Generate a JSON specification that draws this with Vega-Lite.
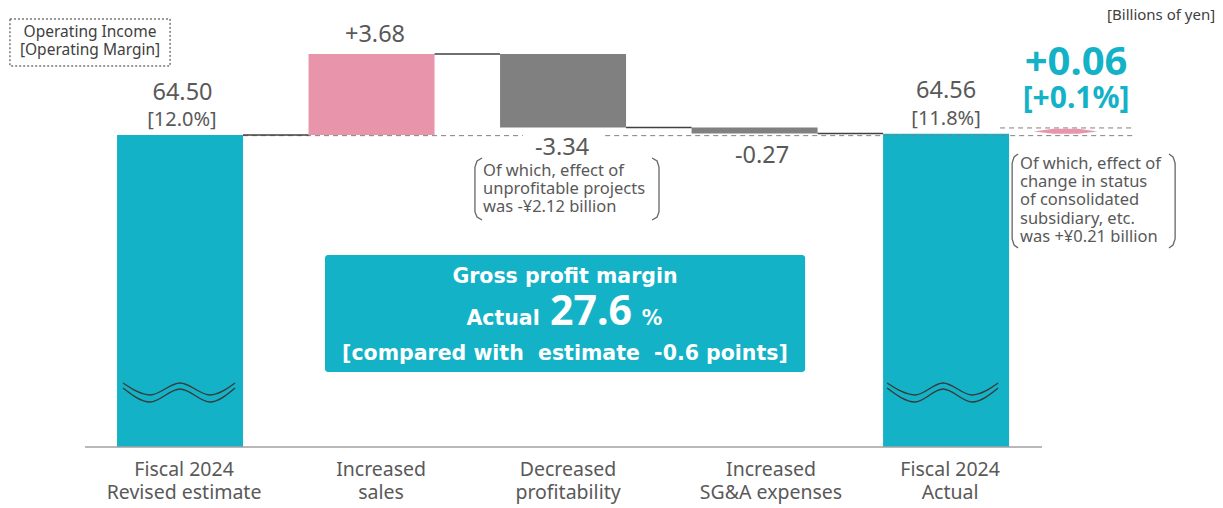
{
  "$schema": "https://vega.github.io/schema/vega-lite/v6.json",
  "width": 1223,
  "height": 508,
  "autosize": "none",
  "padding": 0,
  "background": "white",
  "config": {"view": {"stroke": null}, "font": "Noto Sans"},
  "datasets": {
    "bars": [
      {"name": "Fiscal 2024 Revised estimate", "x": 1, "y": 50.32, "y2": 64.50, "kind": "total"},
      {"name": "Increased sales", "x": 2, "y": 64.50, "y2": 68.18, "kind": "increase"},
      {"name": "Decreased profitability", "x": 3, "y": 68.18, "y2": 64.84, "kind": "decrease"},
      {"name": "Increased SG&A expenses", "x": 4, "y": 64.84, "y2": 64.57, "kind": "decrease"},
      {"name": "Fiscal 2024 Actual", "x": 5, "y": 50.32, "y2": 64.56, "kind": "total"}
    ],
    "conn": [
      {"x": 1.329, "x2": 1.671, "y": 64.50},
      {"x": 2.329, "x2": 2.671, "y": 68.18},
      {"x": 3.329, "x2": 3.671, "y": 64.84},
      {"x": 4.329, "x2": 4.671, "y": 64.57}
    ],
    "dash": [
      {"x": 1.329, "x2": 2.79, "y": 64.47},
      {"x": 3.22, "x2": 5.987, "y": 64.47},
      {"x": 5.282, "x2": 5.987, "y": 64.82}
    ],
    "lens": [
      {"x": 5.457, "y": 64.66, "y2": 64.66},
      {"x": 5.56, "y": 64.56, "y2": 64.78},
      {"x": 5.69, "y": 64.56, "y2": 64.78},
      {"x": 5.791, "y": 64.66, "y2": 64.66}
    ],
    "base": [{"x": 0.504, "x2": 5.501, "y": 50.32}],
    "waves": [
      {"g": "a1", "i": 1, "x": 0.7023, "y": 53.227},
      {"g": "a1", "i": 2, "x": 0.8433, "y": 52.682},
      {"g": "a1", "i": 3, "x": 1.0, "y": 53.227},
      {"g": "a1", "i": 4, "x": 1.1567, "y": 52.682},
      {"g": "a1", "i": 5, "x": 1.2872, "y": 53.227},
      {"g": "a2", "i": 1, "x": 0.7023, "y": 53.0},
      {"g": "a2", "i": 2, "x": 0.8433, "y": 52.364},
      {"g": "a2", "i": 3, "x": 1.0, "y": 52.955},
      {"g": "a2", "i": 4, "x": 1.1567, "y": 52.364},
      {"g": "a2", "i": 5, "x": 1.2872, "y": 53.0},
      {"g": "b1", "i": 1, "x": 4.692, "y": 53.227},
      {"g": "b1", "i": 2, "x": 4.838, "y": 52.682},
      {"g": "b1", "i": 3, "x": 4.984, "y": 53.227},
      {"g": "b1", "i": 4, "x": 5.136, "y": 52.682},
      {"g": "b1", "i": 5, "x": 5.272, "y": 53.227},
      {"g": "b2", "i": 1, "x": 4.692, "y": 53.0},
      {"g": "b2", "i": 2, "x": 4.838, "y": 52.364},
      {"g": "b2", "i": 3, "x": 4.984, "y": 52.955},
      {"g": "b2", "i": 4, "x": 5.136, "y": 52.364},
      {"g": "b2", "i": 5, "x": 5.272, "y": 53.0}
    ],
    "brackets": [
      {"g": "n1l", "i": 1, "x": 2.577, "y": 63.455},
      {"g": "n1l", "i": 2, "x": 2.551, "y": 63.318},
      {"g": "n1l", "i": 3, "x": 2.540, "y": 63.045},
      {"g": "n1l", "i": 4, "x": 2.540, "y": 61.0},
      {"g": "n1l", "i": 5, "x": 2.551, "y": 60.773},
      {"g": "n1l", "i": 6, "x": 2.577, "y": 60.636},
      {"g": "n1r", "i": 1, "x": 3.465, "y": 63.455},
      {"g": "n1r", "i": 2, "x": 3.491, "y": 63.318},
      {"g": "n1r", "i": 3, "x": 3.501, "y": 63.045},
      {"g": "n1r", "i": 4, "x": 3.501, "y": 61.0},
      {"g": "n1r", "i": 5, "x": 3.491, "y": 60.773},
      {"g": "n1r", "i": 6, "x": 3.465, "y": 60.636},
      {"g": "n2l", "i": 1, "x": 5.376, "y": 63.636},
      {"g": "n2l", "i": 2, "x": 5.355, "y": 63.5},
      {"g": "n2l", "i": 3, "x": 5.345, "y": 63.227},
      {"g": "n2l", "i": 4, "x": 5.345, "y": 59.773},
      {"g": "n2l", "i": 5, "x": 5.355, "y": 59.5},
      {"g": "n2l", "i": 6, "x": 5.376, "y": 59.364},
      {"g": "n2r", "i": 1, "x": 6.164, "y": 63.636},
      {"g": "n2r", "i": 2, "x": 6.185, "y": 63.5},
      {"g": "n2r", "i": 3, "x": 6.196, "y": 63.227},
      {"g": "n2r", "i": 4, "x": 6.196, "y": 59.773},
      {"g": "n2r", "i": 5, "x": 6.185, "y": 59.5},
      {"g": "n2r", "i": 6, "x": 6.164, "y": 59.364}
    ],
    "box": [{"x": 1.757, "x2": 4.264, "y": 59.045, "y2": 53.727}],
    "opbox": [{"x": 0.112, "x2": 0.948, "y": 69.773, "y2": 67.636}],
    "vals": [
      {"x": 1.013, "y": 66.091, "t": "64.50"},
      {"x": 2.018, "y": 68.727, "t": "+3.68"},
      {"x": 2.995, "y": 63.591, "t": "-3.34"},
      {"x": 4.039, "y": 63.227, "t": "-0.27"},
      {"x": 5.0, "y": 66.182, "t": "64.56"}
    ],
    "pcts": [
      {"x": 1.01, "y": 64.909, "t": "[12.0%]"},
      {"x": 5.0, "y": 64.955, "t": "[11.8%]"}
    ],
    "big1": [{"x": 5.679, "y": 67.227, "t": "+0.06"}],
    "big2": [{"x": 5.679, "y": 65.727, "t": "[+0.1%]"}],
    "cats": [
      {"x": 1.021, "y": 49.682, "t": "Fiscal 2024\nRevised estimate"},
      {"x": 2.05, "y": 49.682, "t": "Increased\nsales"},
      {"x": 3.026, "y": 49.682, "t": "Decreased\nprofitability"},
      {"x": 4.086, "y": 49.682, "t": "Increased\nSG&A expenses"},
      {"x": 5.021, "y": 49.682, "t": "Fiscal 2024\nActual"}
    ],
    "unit": [{"x": 6.405, "y": 69.727, "t": "[Billions of yen]"}],
    "optext": [{"x": 0.530, "y": 68.955, "t": "Operating Income\n[Operating Margin]"}],
    "notes": [
      {"x": 2.582, "y": 62.636, "t": "Of which, effect of\nunprofitable projects\nwas -¥2.12 billion"},
      {"x": 5.386, "y": 62.955, "t": "Of which, effect of\nchange in status\nof consolidated\nsubsidiary, etc.\nwas +¥0.21 billion"}
    ],
    "boxtext": [
      {"x": 3.010, "y": 57.773, "t": "Gross profit margin"},
      {"x": 2.687, "y": 55.864, "t": "Actual"},
      {"x": 3.465, "y": 55.864, "t": "%"},
      {"x": 3.010, "y": 54.273, "t": "[compared with\u00a0 estimate\u00a0 -0.6 points]"}
    ],
    "boxbig": [{"x": 3.146, "y": 55.864, "t": "27.6"}]
  },
  "encoding": {
    "x": {"field": "x", "type": "quantitative", "scale": {"domain": [0.06, 6.446], "nice": false, "zero": false, "padding": 0}, "axis": null},
    "y": {"field": "y", "type": "quantitative", "scale": {"domain": [47.545, 70.636], "nice": false, "zero": false, "padding": 0}, "axis": null}
  },
  "layer": [
    {
      "data": {"name": "bars"},
      "mark": {"type": "bar", "width": 126},
      "encoding": {
        "y2": {"field": "y2"},
        "color": {"field": "kind", "type": "nominal", "scale": {"domain": ["total", "increase", "decrease"], "range": ["#13B2C7", "#E895AB", "#808080"]}, "legend": null}
      }
    },
    {
      "data": {"name": "base"},
      "mark": {"type": "rule", "color": "#A0A0A0", "strokeWidth": 1.5},
      "encoding": {"x2": {"field": "x2"}}
    },
    {
      "data": {"name": "waves"},
      "mark": {"type": "line", "interpolate": "monotone", "color": "#3A3A3A", "strokeWidth": 1.4},
      "encoding": {"detail": {"field": "g"}, "order": {"field": "i"}}
    },
    {
      "data": {"name": "box"},
      "mark": {"type": "rect", "color": "#13B2C7", "cornerRadius": 3},
      "encoding": {"x2": {"field": "x2"}, "y2": {"field": "y2"}}
    },
    {
      "data": {"name": "dash"},
      "mark": {"type": "rule", "strokeDash": [5, 4], "color": "#808080", "strokeWidth": 1},
      "encoding": {"x2": {"field": "x2"}}
    },
    {
      "data": {"name": "conn"},
      "mark": {"type": "rule", "color": "#404040", "strokeWidth": 1.5},
      "encoding": {"x2": {"field": "x2"}}
    },
    {
      "data": {"name": "lens"},
      "mark": {"type": "area", "color": "#E895AB"},
      "encoding": {"y2": {"field": "y2"}}
    },
    {
      "data": {"name": "brackets"},
      "mark": {"type": "line", "color": "#666666", "strokeWidth": 1.3},
      "encoding": {"detail": {"field": "g"}, "order": {"field": "i"}}
    },
    {
      "data": {"name": "opbox"},
      "mark": {"type": "rect", "filled": false, "color": "#333333", "strokeDash": [2, 2], "strokeWidth": 1},
      "encoding": {"x2": {"field": "x2"}, "y2": {"field": "y2"}}
    },
    {
      "data": {"name": "vals"},
      "mark": {"type": "text", "fontSize": 23.5, "color": "#595959", "align": "center", "baseline": "alphabetic"},
      "encoding": {"text": {"field": "t"}}
    },
    {
      "data": {"name": "pcts"},
      "mark": {"type": "text", "fontSize": 20, "color": "#595959", "align": "center", "baseline": "alphabetic"},
      "encoding": {"text": {"field": "t"}}
    },
    {
      "data": {"name": "big1"},
      "mark": {"type": "text", "fontSize": 40, "fontWeight": "bold", "color": "#13B2C7", "align": "center", "baseline": "alphabetic"},
      "encoding": {"text": {"field": "t"}}
    },
    {
      "data": {"name": "big2"},
      "mark": {"type": "text", "fontSize": 30, "fontWeight": "bold", "color": "#13B2C7", "align": "center", "baseline": "alphabetic"},
      "encoding": {"text": {"field": "t"}}
    },
    {
      "data": {"name": "cats"},
      "mark": {"type": "text", "fontSize": 19.5, "color": "#595959", "align": "center", "baseline": "top", "lineBreak": "\n", "lineHeight": 23.5},
      "encoding": {"text": {"field": "t"}}
    },
    {
      "data": {"name": "unit"},
      "mark": {"type": "text", "fontSize": 15, "color": "#404040", "align": "right", "baseline": "alphabetic"},
      "encoding": {"text": {"field": "t"}}
    },
    {
      "data": {"name": "optext"},
      "mark": {"type": "text", "fontSize": 15.5, "color": "#404040", "align": "center", "baseline": "alphabetic", "lineBreak": "\n", "lineHeight": 18},
      "encoding": {"text": {"field": "t"}}
    },
    {
      "data": {"name": "notes"},
      "mark": {"type": "text", "fontSize": 16.5, "color": "#595959", "align": "left", "baseline": "alphabetic", "lineBreak": "\n", "lineHeight": 18.2},
      "encoding": {"text": {"field": "t"}}
    },
    {
      "data": {"name": "boxtext"},
      "mark": {"type": "text", "font": "DejaVu Sans", "fontSize": 20.5, "fontWeight": "bold", "color": "white", "align": "center", "baseline": "alphabetic"},
      "encoding": {"text": {"field": "t"}}
    },
    {
      "data": {"name": "boxbig"},
      "mark": {"type": "text", "fontSize": 41, "fontWeight": "bold", "color": "white", "align": "center", "baseline": "alphabetic"},
      "encoding": {"text": {"field": "t"}}
    }
  ]
}
